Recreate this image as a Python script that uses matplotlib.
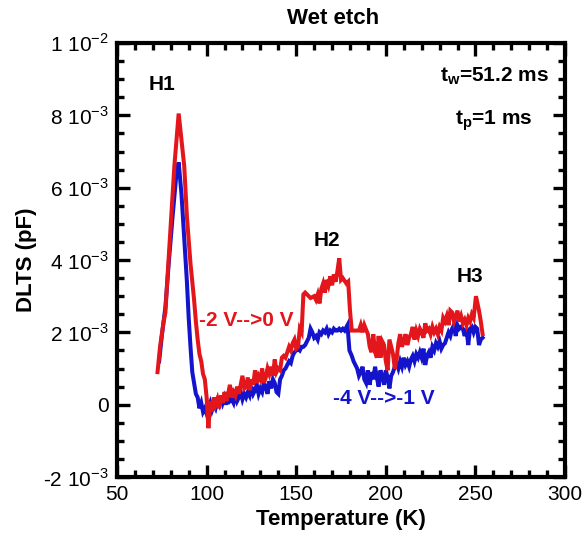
import matplotlib
matplotlib.use("Agg")
import matplotlib.pyplot as plt
from matplotlib.ticker import MultipleLocator, FixedLocator, FixedFormatter

plt.rcParams['font.family'] = ['Liberation Sans', 'DejaVu Sans']
plt.rcParams['mathtext.fontset'] = 'custom'
plt.rcParams['mathtext.rm'] = 'Liberation Sans'
plt.rcParams['mathtext.bf'] = 'Liberation Sans:bold'

# DLTS spectra, values in units of 1e-3 pF
temp_red = [72.6, 74, 76, 77, 78, 80, 82, 84.4, 86, 87.5, 89, 91, 93, 94, 95, 96, 97, 98, 99, 100,
            101, 102, 103, 104, 105, 106, 107, 108, 109, 110, 111, 112, 113, 114, 115, 116, 117, 118, 119, 120,
            121, 122, 123, 124, 125, 126, 127, 128, 129, 130, 131, 132, 133, 134, 135, 136, 137, 138, 139, 140,
            141, 142, 143, 144, 145, 146, 147, 148, 149, 150, 151, 152, 153, 154, 155, 157, 158, 160, 161, 162,
            163, 164, 165, 166, 167, 168, 169, 170, 171, 172, 173, 174, 175, 176, 178, 179, 180, 181, 183, 185,
            186, 187, 188, 190, 191, 192, 193, 194, 195, 196, 197, 198, 199, 200, 201, 202, 203, 204, 205, 206,
            207, 208, 209, 210, 211, 212, 213, 214, 215, 216, 217, 218, 219, 220, 221, 222, 223, 224, 225, 226,
            227, 228, 229, 230, 231, 232, 233, 234, 235, 236, 237, 238, 239, 240, 241, 242, 243, 244, 245, 246,
            247, 248, 249, 250.3, 252, 253, 254]
dlts_red = [0.9, 1.6, 2.3, 2.55, 3.4, 5.0, 6.6, 8.05, 7.3, 6.6, 5.2, 3.9, 2.9, 2.3, 1.8, 1.4, 1.2, 0.85, 0.7, 0.2,
            -0.65, 0.1, -0.2, 0.2, 0.0, 0.15, -0.1, 0.25, 0.05, 0.35, 0.1, 0.3, 0.55, 0.2, 0.35, 0.25, 0.5, 0.3, 0.55, 0.8,
            0.45, 0.5, 0.75, 0.4, 0.7, 0.55, 0.95, 0.6, 0.8, 0.7, 1.0, 0.6, 0.75, 1.0, 0.85, 1.05, 0.8, 1.25, 0.9, 1.0,
            0.95, 1.3, 1.35, 1.3, 1.45, 1.6, 1.5, 1.7, 1.8, 1.55, 1.6, 2.1, 2.0, 3.05, 3.1, 3.0, 2.95, 3.0, 2.9, 3.05,
            2.8, 3.2, 3.35, 3.1, 3.45, 3.3, 3.55, 3.3, 3.6, 3.4, 3.7, 4.05, 3.45, 3.5, 3.35, 3.4, 2.6, 2.05, 2.05, 2.05,
            2.2, 2.0, 2.2, 1.95, 1.6, 1.45, 1.95, 1.45, 1.3, 1.9, 1.3, 1.75, 1.65, 1.2, 0.95, 1.8, 1.6, 1.4, 1.0, 1.25,
            1.7, 1.95, 1.6, 1.75, 1.95, 1.65, 1.85, 1.95, 2.15, 1.8, 2.05, 1.9, 2.1, 2.0, 1.85, 2.25, 2.05, 2.1, 1.95, 2.15,
            2.0, 2.1, 1.95, 2.15, 2.05, 2.4, 2.3, 2.45, 2.2, 2.6, 2.55, 2.3, 2.45, 2.6, 2.3, 2.45, 2.25, 2.35, 2.2, 2.4,
            2.3, 2.5, 2.4, 3.0, 2.6, 2.3, 1.95]

temp_blue = [73.5, 75, 77, 79, 81, 83, 84.4, 86, 87.5, 89, 90, 91, 92, 93, 94, 95, 96, 97, 98, 99,
             100, 101, 102, 103, 104, 105, 106, 107, 108, 109, 110, 111, 112, 113, 114, 115, 116, 117, 118, 119,
             120, 121, 122, 123, 124, 125, 126, 127, 128, 129, 130, 131, 132, 133, 134, 135, 136, 137, 138, 139,
             140, 141, 142, 143, 144, 145, 146, 147, 148, 149, 150, 151, 152, 153, 154, 155, 156, 157, 158, 159,
             160, 161, 162, 163, 164, 165, 166, 167, 168, 169, 170, 171, 172, 173, 174, 175, 176, 177, 178.6, 179.7,
             181, 182, 183, 184, 185, 186, 187, 188, 189, 190, 191, 192, 193, 194, 195, 196, 197, 198, 199, 200,
             201, 202, 203, 204, 205, 206, 207, 208, 209, 210, 211, 212, 213, 214, 215, 216, 217, 218, 219, 220,
             221, 222, 223, 224, 225, 226, 227, 228, 229, 230, 231, 232, 233, 234, 235, 236, 237, 238, 239, 240,
             241, 242, 243, 244, 245, 246, 247, 248, 249, 250, 251, 252, 253, 254]
dlts_blue = [1.2, 1.9, 2.7, 4.0, 5.2, 6.3, 6.7, 5.8, 4.6, 3.4, 2.4, 1.6, 0.9, 0.6, 0.3, 0.2, -0.1, 0.05, -0.2, -0.1,
             -0.25, -0.1, 0.05, -0.15, 0.0, -0.1, 0.1, 0.0, 0.25, 0.05, 0.2, 0.0, 0.25, 0.1, 0.15, 0.05, 0.3, 0.1, 0.2, 0.35,
             0.15, 0.3, 0.2, 0.35, 0.25, 0.5, 0.3, 0.4, 0.55, 0.3, 0.45, 0.35, 0.6, 0.5, 0.3, 0.65, 0.45, 0.7, 0.6, 0.35,
             0.3, 0.7, 0.8, 0.95, 1.0, 1.1, 1.2, 1.15, 1.35, 1.45, 1.5, 1.55, 1.5, 1.6, 1.6, 1.65, 1.75, 1.85, 2.1, 2.0,
             1.85, 1.9, 1.8, 2.0, 1.95, 2.05, 2.0, 2.1, 1.95, 2.05, 2.0, 2.1, 2.05, 2.05, 2.1, 2.05, 2.1, 2.05, 2.2, 1.5,
             1.35, 1.2, 1.1, 1.0, 0.8, 0.9, 1.05, 0.7, 0.6, 0.95, 0.55, 0.9, 0.7, 1.05, 0.75, 0.5, 0.95, 0.8, 0.55, 0.95,
             0.75, 0.45, 0.8, 0.9, 1.05, 1.15, 1.0, 1.2, 1.05, 1.3, 1.1, 1.2, 1.05, 1.25, 1.35, 1.2, 1.4, 1.3, 1.45, 1.3,
             1.55, 1.1, 1.35, 1.45, 1.3, 1.6, 1.5, 1.7, 1.6, 1.75, 1.55, 1.65, 1.7, 1.85, 2.0, 1.9, 2.1, 2.2, 1.9, 2.2,
             2.1, 2.15, 2.1, 1.9, 2.1, 1.65, 2.1, 2.15, 2.0, 2.15, 2.1, 1.65, 1.8, 1.85]

y_ticks = [-2e-3, 0, 2e-3, 4e-3, 6e-3, 8e-3, 1e-2]
y_tick_labels = ['-2 10$^{-3}$', '0', '2 10$^{-3}$', '4 10$^{-3}$',
                 '6 10$^{-3}$', '8 10$^{-3}$', '1 10$^{-2}$']

red = '#e3161c'
blue = '#1414cc'

fig = plt.figure(figsize=(5.86, 5.36), dpi=100)
ax = fig.add_axes([0.1997, 0.110, 0.7645, 0.8098])

ax.plot(temp_blue, [v * 1e-3 for v in dlts_blue], color=blue, lw=2.9, solid_joinstyle='miter')
ax.plot(temp_red, [v * 1e-3 for v in dlts_red], color=red, lw=2.9, solid_joinstyle='miter')

ax.set_xlim(50, 300)
ax.set_ylim(-2e-3, 1e-2)
ax.xaxis.set_major_locator(MultipleLocator(50))
ax.xaxis.set_minor_locator(MultipleLocator(10))
ax.yaxis.set_major_locator(FixedLocator(y_ticks))
ax.yaxis.set_major_formatter(FixedFormatter(y_tick_labels))
ax.yaxis.set_minor_locator(MultipleLocator(5e-4))
ax.tick_params(which='both', direction='in', top=True, right=True, width=2.4, labelsize=15)
ax.tick_params(which='major', length=9, pad=6)
ax.tick_params(which='minor', length=5)
for s in ax.spines.values():
    s.set_linewidth(3)

ax.set_xlabel('Temperature (K)', fontsize=16, fontweight='bold', labelpad=3)
ax.set_ylabel('DLTS (pF)', fontsize=16, fontweight='bold', labelpad=4)
fig.text(0.568, 0.966, 'Wet etch', fontsize=16, fontweight='bold', ha='center', va='center')

ax.text(75, 8.85e-3, 'H1', fontsize=15, fontweight='bold', ha='center', va='center')
ax.text(167, 4.55e-3, 'H2', fontsize=15, fontweight='bold', ha='center', va='center')
ax.text(247, 3.55e-3, 'H3', fontsize=15, fontweight='bold', ha='center', va='center')
ax.text(291, 8.95e-3, r't$_\mathbf{w}$=51.2 ms', fontsize=15, fontweight='bold', ha='right', va='baseline')
ax.text(282, 7.75e-3, r't$_\mathbf{p}$=1 ms', fontsize=15, fontweight='bold', ha='right', va='baseline')
ax.text(122, 2.32e-3, '-2 V-->0 V', fontsize=15, fontweight='bold', color=red, ha='center', va='center')
ax.text(199, 0.17e-3, '-4 V-->-1 V', fontsize=15, fontweight='bold', color=blue, ha='center', va='center')

fig.savefig('out.png', dpi=100)
